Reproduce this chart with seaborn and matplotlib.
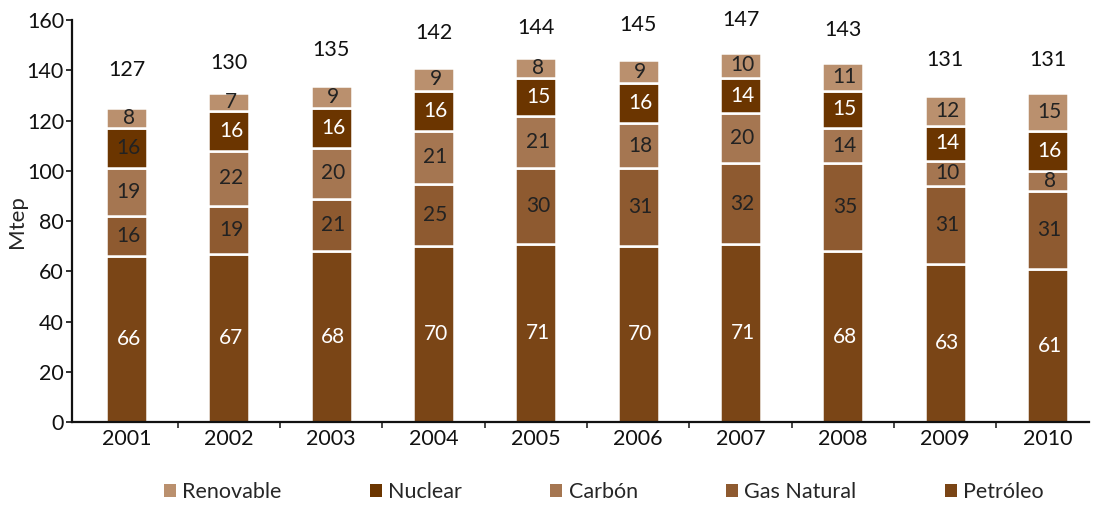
import numpy as np
import pandas as pd
import matplotlib
matplotlib.use("Agg")
import matplotlib.pyplot as plt
import seaborn as sns
from matplotlib.patches import Patch

years = ["2001", "2002", "2003", "2004", "2005", "2006", "2007", "2008", "2009", "2010"]
petroleo = [66, 67, 68, 70, 71, 70, 71, 68, 63, 61]
gas_natural = [16, 19, 21, 25, 30, 31, 32, 35, 31, 31]
carbon = [19, 22, 20, 21, 21, 18, 20, 14, 10, 8]
nuclear = [16, 16, 16, 16, 15, 16, 14, 15, 14, 16]
renovable = [8, 7, 9, 9, 8, 9, 10, 11, 12, 15]
totals = [127, 130, 135, 142, 144, 145, 147, 143, 131, 131]

series_names = ["Petróleo", "Gas Natural", "Carbón", "Nuclear", "Renovable"]
series_vals = [petroleo, gas_natural, carbon, nuclear, renovable]
colors = ["#7A4516", "#8E5A30", "#A57651", "#6B3500", "#BA906E"]
label_colors = ["white", "#222222", "#222222", "white", "#222222"]

sns.set_theme(style="white")
plt.rcParams["font.family"] = ["Lato", "DejaVu Sans"]

fig = plt.figure(figsize=(10.96, 5.05), dpi=100)
ax = fig.add_axes([0.066, 0.164, 0.928, 0.796])

df = pd.DataFrame({"year": years})
bottom = np.zeros(len(years))
for name, vals, col, lc in zip(series_names, series_vals, colors, label_colors):
    df[name] = vals
    sns.barplot(data=df, x="year", y=name, color=col, bottom=bottom,
                width=0.40, edgecolor="white", linewidth=1.8, ax=ax,
                saturation=1)
    for i, v in enumerate(vals):
        c = lc
        if name == "Nuclear" and i == 0:
            c = "#222222"
        ax.text(i + 0.02, bottom[i] + v / 2, str(v), ha="center", va="center",
                fontsize=15, color=c)
    bottom = bottom + np.array(vals)

for i, t in enumerate(totals):
    ax.text(i, t + 13, str(t), ha="center", va="center", fontsize=15.5, color="#111111")

ax.set_xlim(-0.53, 9.41)
ax.set_ylim(0, 160)
ax.set_yticks(np.arange(0, 161, 20))
ax.set_xlabel("")
ax.set_ylabel("Mtep", fontsize=16, labelpad=0)
ax.tick_params(axis="y", labelsize=15.5, colors="#111111", direction="out", length=4,
               left=True, width=1.2, pad=2)
ax.tick_params(axis="x", labelsize=15.5, colors="#111111", length=0, pad=5)
ax.set_xticks(np.arange(0.5, 9.5, 1), minor=True)
ax.tick_params(axis="x", which="minor", bottom=True, length=4, width=1.2, direction="out")
for s in ["top", "right"]:
    ax.spines[s].set_visible(False)
for s in ["left", "bottom"]:
    ax.spines[s].set_color("#111111")
    ax.spines[s].set_linewidth(1.6)

handles = [Patch(facecolor=c, edgecolor="none") for c in colors[::-1]]
labels = series_names[::-1]
fig.legend(handles, labels, loc="center", bbox_to_anchor=(0.551, 0.025), ncol=5,
           frameon=False, fontsize=15.5, handlelength=0.55, handleheight=0.55,
           handletextpad=0.3, columnspacing=4.1)

fig.savefig("out.png", dpi=100)
